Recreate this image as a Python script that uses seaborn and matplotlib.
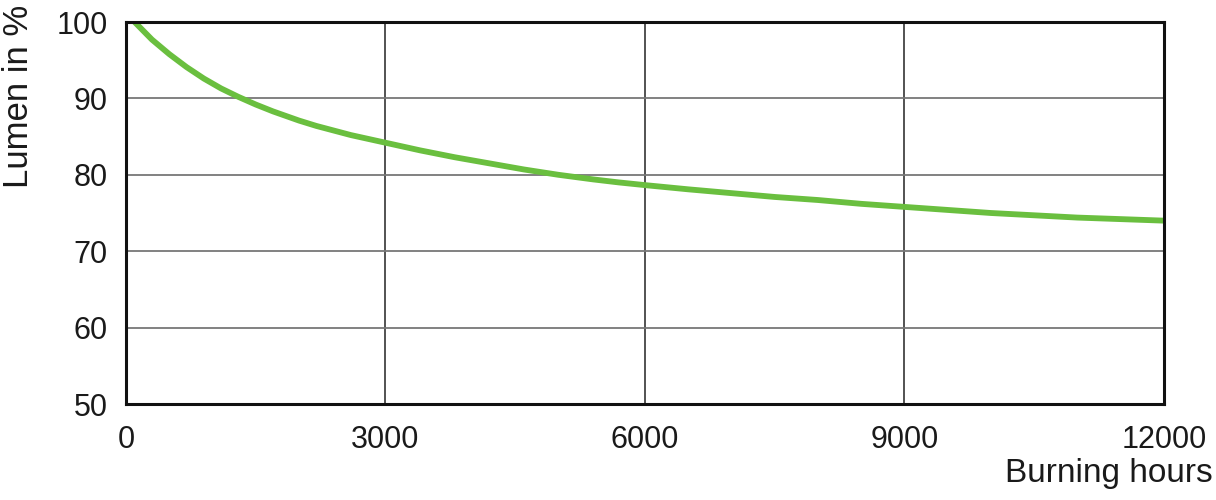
import matplotlib.pyplot as plt
import seaborn as sns
import pandas as pd

# burning hours vs. remaining lumen (%)
hours = [100, 300, 500, 700, 900, 1100, 1300, 1500, 1700, 2000, 2200, 2600,
         3000, 3400, 3800, 4200, 4600, 5000, 5400, 5700, 6000, 6500, 7000,
         7500, 8000, 8500, 9000, 9500, 10000, 10500, 11000, 11500, 12000]
lumen = [100, 97.7, 95.8, 94.1, 92.6, 91.3, 90.2, 89.2, 88.3, 87.1, 86.4, 85.2,
         84.2, 83.2, 82.3, 81.5, 80.7, 80.0, 79.4, 79.0, 78.65, 78.1, 77.6,
         77.1, 76.7, 76.2, 75.8, 75.4, 75.0, 74.7, 74.4, 74.2, 74.0]
x_ticks = [0, 3000, 6000, 9000, 12000]
y_ticks = [50, 60, 70, 80, 90, 100]

sns.set_style('white')
plt.rcParams['font.family'] = ['Liberation Sans', 'DejaVu Sans']

df = pd.DataFrame({'hours': hours, 'lumen': lumen})

fig = plt.figure(figsize=(12.16, 5), dpi=100)
ax = fig.add_axes([0.1036, 0.192, 0.8535, 0.764])

sns.lineplot(data=df, x='hours', y='lumen', ax=ax, color='#6abf3f',
             linewidth=4.2, solid_capstyle='round', solid_joinstyle='round',
             zorder=3)

ax.set_xlim(0, 12000)
ax.set_ylim(50, 100)
ax.set_xticks(x_ticks)
ax.set_yticks(y_ticks)
ax.grid(True, axis='y', color='#777777', linewidth=1.3)
ax.grid(True, axis='x', color='#444444', linewidth=1.3)
for s in ax.spines.values():
    s.set_color('#111111')
    s.set_linewidth(2.2)
    s.set_zorder(4)
ax.tick_params(axis='both', length=0, labelsize=22, colors='#1a1a1a')
ax.tick_params(axis='x', pad=15)
ax.tick_params(axis='y', pad=13)
ax.set_xlabel('')
ax.set_ylabel('')

fig.text(0.9975, 0.036, 'Burning hours', ha='right', va='baseline',
         fontsize=24, color='#1a1a1a')
fig.text(0.002, 0.99, 'Lumen in %', rotation=90, ha='left', va='top',
         fontsize=25, color='#1a1a1a')

fig.savefig('out.png', dpi=100)
